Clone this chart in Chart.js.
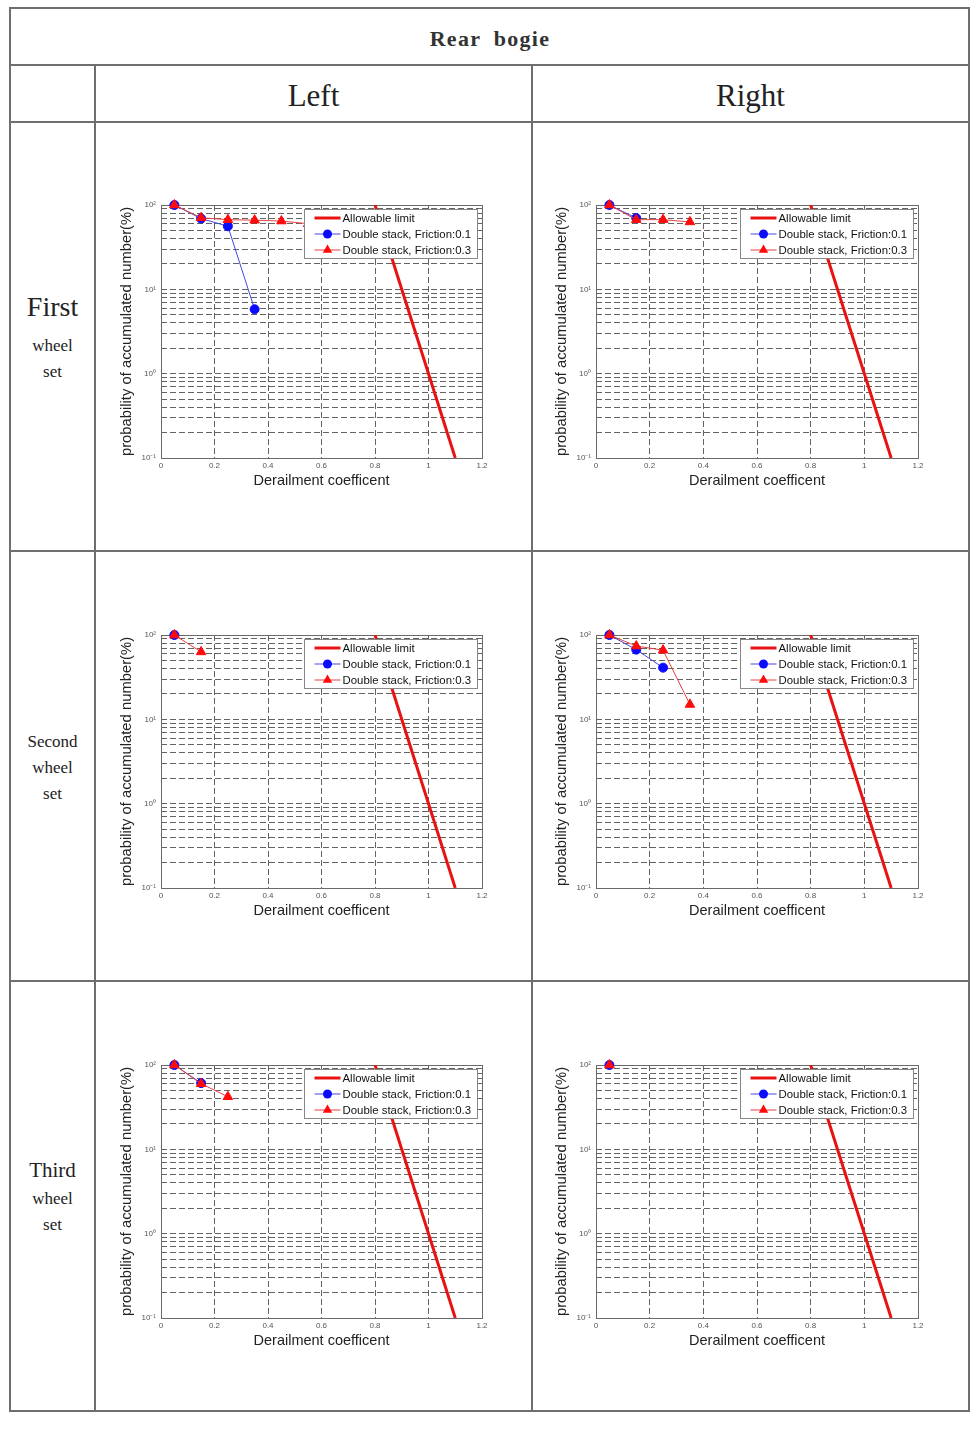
<!DOCTYPE html>
<html>
<head>
<meta charset="utf-8">
<title>Rear bogie - derailment coefficient</title>
<script src="https://cdn.jsdelivr.net/npm/chart.js@4.4.1/dist/chart.umd.min.js"></script>
<style>
  html, body { margin: 0; padding: 0; background: #fff; }
  #page { position: relative; width: 980px; height: 1429px; overflow: hidden; }
  .rule { position: absolute; background: #6e6e6e; }
  .txt { position: absolute; font-family: "Liberation Serif", "DejaVu Serif", serif; color: #222;
         text-align: center; white-space: nowrap; line-height: 1; }
  .plot { position: absolute; }
</style>
</head>
<body>
<div id="page">
  <!-- table rules -->
  <div class="rule" style="left:10px;top:7px;width:960px;height:2px"></div>
  <div class="rule" style="left:10px;top:64px;width:960px;height:2px"></div>
  <div class="rule" style="left:10px;top:121px;width:960px;height:2px"></div>
  <div class="rule" style="left:10px;top:550px;width:960px;height:2px"></div>
  <div class="rule" style="left:10px;top:980px;width:960px;height:2px"></div>
  <div class="rule" style="left:10px;top:1410px;width:960px;height:2px"></div>
  <div class="rule" style="left:9px;top:7px;width:2px;height:1405px"></div>
  <div class="rule" style="left:968px;top:7px;width:2px;height:1405px"></div>
  <div class="rule" style="left:94px;top:64px;width:2px;height:1348px"></div>
  <div class="rule" style="left:531px;top:64px;width:2px;height:1348px"></div>

  <!-- headers -->
  <div class="txt" style="left:10px;width:960px;top:28px;font-size:22px;font-weight:bold;letter-spacing:1.3px;word-spacing:6px;color:#333">Rear bogie</div>
  <div class="txt" style="left:95px;width:437px;top:80px;font-size:31px">Left</div>
  <div class="txt" style="left:532px;width:437px;top:80px;font-size:31px">Right</div>

  <div class="txt" style="left:10px;width:85px;top:293px;font-size:28px">First</div>
  <div class="txt" style="left:10px;width:85px;top:337px;font-size:17px">wheel</div>
  <div class="txt" style="left:10px;width:85px;top:363px;font-size:17px">set</div>

  <div class="txt" style="left:10px;width:85px;top:733px;font-size:17px">Second</div>
  <div class="txt" style="left:10px;width:85px;top:759px;font-size:17px">wheel</div>
  <div class="txt" style="left:10px;width:85px;top:785px;font-size:17px">set</div>

  <div class="txt" style="left:10px;width:85px;top:1160px;font-size:21px">Third</div>
  <div class="txt" style="left:10px;width:85px;top:1190px;font-size:17px">wheel</div>
  <div class="txt" style="left:10px;width:85px;top:1216px;font-size:17px">set</div>

  <!-- charts -->
  <canvas class="plot" id="c11" width="380" height="300" style="left:115px;top:195px"></canvas>
  <canvas class="plot" id="c12" width="380" height="300" style="left:550px;top:195px"></canvas>
  <canvas class="plot" id="c21" width="380" height="300" style="left:115px;top:625px"></canvas>
  <canvas class="plot" id="c22" width="380" height="300" style="left:550px;top:625px"></canvas>
  <canvas class="plot" id="c31" width="380" height="300" style="left:115px;top:1055px"></canvas>
  <canvas class="plot" id="c32" width="380" height="300" style="left:550px;top:1055px"></canvas>
</div>

<script>
// ---------- data ----------
const xCenters = [0.05, 0.15, 0.25, 0.35, 0.45, 0.55];

const limitX = [0.8, 1.1];
const limitY = [100, 0.1];

const xTicks = [0, 0.2, 0.4, 0.6, 0.8, 1, 1.2];
const xTickLabels = ['0', '0.2', '0.4', '0.6', '0.8', '1', '1.2'];

const yGrid = [0.1, 0.2, 0.3, 0.4, 0.5, 0.6, 0.7, 0.8, 0.9,
               1, 2, 3, 4, 5, 6, 7, 8, 9,
               10, 20, 30, 40, 50, 60, 70, 80, 90, 100];
const yTickLabels = { '0.1': '10\u207B\u00B9', '1': '10\u2070', '10': '10\u00B9', '100': '10\u00B2' };

const seriesLabels = ['Allowable limit', 'Double stack, Friction:0.1', 'Double stack, Friction:0.3'];

// y values (%) at xCenters
const firstLeftF01 = [100, 69, 56, 5.8];
const firstLeftF03 = [100, 70.5, 67, 66, 64.5, 60];
const firstRightF01 = [100, 70];
const firstRightF03 = [100, 67, 67, 63];
const secondLeftF01 = [100];
const secondLeftF03 = [100, 63];
const secondRightF01 = [100, 67, 41];
const secondRightF03 = [100, 74, 66, 15];
const thirdLeftF01 = [100, 61];
const thirdLeftF03 = [100, 60, 42];
const thirdRightF01 = [100];
const thirdRightF03 = [100];

const panels = [
    { id: 'c11', f01: firstLeftF01, f03: firstLeftF03, padRight: 13 },
    { id: 'c12', f01: firstRightF01, f03: firstRightF03, padRight: 12 },
    { id: 'c21', f01: secondLeftF01, f03: secondLeftF03, padRight: 13 },
    { id: 'c22', f01: secondRightF01, f03: secondRightF03, padRight: 12 },
    { id: 'c31', f01: thirdLeftF01, f03: thirdLeftF03, padRight: 13 },
    { id: 'c32', f01: thirdRightF01, f03: thirdRightF03, padRight: 12 }
];

// ---------- styles ----------
Chart.defaults.font.family = "'Liberation Sans', Arial, sans-serif";
const gridColor = 'rgba(60,60,60,0.8)';
const gridDash = [6, 3];
const tickFont = { size: 8 };
const tickColor = '#555';

// ---------- plugins ----------
// plot box around the chart area (MATLAB style)
const framePlugin = {
    id: 'frame',
    beforeDatasetsDraw(chart) {
        const { ctx, chartArea: a } = chart;
        ctx.save();
        ctx.strokeStyle = '#6a6a6a';
        ctx.lineWidth = 1;
        ctx.strokeRect(Math.round(a.left) + 0.5, Math.round(a.top) + 0.5,
                       Math.round(a.right - a.left), Math.round(a.bottom - a.top));
        ctx.restore();
    }
};

function drawMarker(ctx, style, x, y, r, color) {
    ctx.fillStyle = color;
    ctx.beginPath();
    if (style === 'circle') {
        ctx.arc(x, y, r, 0, Math.PI * 2);
    } else if (style === 'triangle') {
        let rad = 0;
        ctx.moveTo(x + Math.sin(rad) * r, y - Math.cos(rad) * r);
        rad += 2 * Math.PI / 3;
        ctx.lineTo(x + Math.sin(rad) * r, y - Math.cos(rad) * r);
        rad += 2 * Math.PI / 3;
        ctx.lineTo(x + Math.sin(rad) * r, y - Math.cos(rad) * r);
        ctx.closePath();
    }
    ctx.fill();
}

// boxed legend in the upper right of the plot
const boxLegend = {
    id: 'boxLegend',
    afterDatasetsDraw(chart) {
        const { ctx, chartArea: a } = chart;
        const w = 173, h = 49;
        const x0 = Math.round(a.right - 5 - w) + 0.5;
        const y0 = Math.round(a.top + 4) + 0.5;
        ctx.save();
        ctx.fillStyle = '#fff';
        ctx.fillRect(x0, y0, w, h);
        ctx.strokeStyle = '#888';
        ctx.lineWidth = 1;
        ctx.strokeRect(x0, y0, w, h);
        ctx.font = "11.4px 'Liberation Sans', Arial, sans-serif";
        ctx.textBaseline = 'middle';
        chart.data.datasets.forEach(function(ds, i) {
            const cy = y0 + 8.5 + i * 16;
            ctx.strokeStyle = ds.borderColor;
            ctx.lineWidth = ds.borderWidth;
            ctx.beginPath();
            ctx.moveTo(x0 + 10, cy);
            ctx.lineTo(x0 + 36, cy);
            ctx.stroke();
            if (ds.pointRadius > 0) {
                drawMarker(ctx, ds.pointStyle, x0 + 23, cy, ds.pointRadius, ds.pointBackgroundColor);
            }
            ctx.fillStyle = '#111';
            ctx.fillText(ds.label, x0 + 38, cy + 0.5);
        });
        ctx.restore();
    }
};

// ---------- charts ----------
function toPoints(values) {
    return values.map(function(v, i) { return { x: xCenters[i], y: v }; });
}

panels.forEach(function(p) {
    new Chart(document.getElementById(p.id), {
        type: 'line',
        data: {
            datasets: [{
                label: seriesLabels[0],
                data: limitX.map(function(x, i) { return { x: x, y: limitY[i] }; }),
                borderColor: '#e81212',
                borderWidth: 3,
                pointRadius: 0,
                order: 0
            }, {
                label: seriesLabels[1],
                data: toPoints(p.f01),
                borderColor: '#4646e6',
                borderWidth: 1,
                pointStyle: 'circle',
                pointRadius: 4.5,
                pointBackgroundColor: '#0a0aff',
                pointBorderColor: '#0a0aff',
                pointBorderWidth: 1,
                order: 2,
                clip: 8
            }, {
                label: seriesLabels[2],
                data: toPoints(p.f03),
                borderColor: '#e64040',
                borderWidth: 1,
                pointStyle: 'triangle',
                pointRadius: 5.5,
                pointBackgroundColor: '#ff0a0a',
                pointBorderColor: '#ff0a0a',
                pointBorderWidth: 1,
                order: 1,
                clip: 8
            }]
        },
        options: {
            responsive: false,
            animation: false,
            layout: { padding: { left: 0, top: 10, right: p.padRight, bottom: 0 } },
            plugins: { legend: { display: false }, tooltip: { enabled: false } },
            scales: {
                x: {
                    type: 'linear',
                    min: 0,
                    max: 1.2,
                    afterBuildTicks: function(s) { s.ticks = xTicks.map(function(v) { return { value: v }; }); },
                    afterFit: function(s) { s.height = 37; },
                    ticks: {
                        autoSkip: false,
                        maxRotation: 0,
                        padding: 3,
                        font: tickFont,
                        color: tickColor,
                        callback: function(v, i) { return xTickLabels[i]; }
                    },
                    grid: { color: gridColor, lineWidth: 1, drawTicks: false },
                    border: { display: false, dash: gridDash },
                    title: {
                        display: true,
                        text: 'Derailment coefficent',
                        color: '#222',
                        font: { size: 14.5 },
                        padding: { top: 0, bottom: 5 }
                    }
                },
                y: {
                    type: 'logarithmic',
                    min: 0.1,
                    max: 100,
                    afterBuildTicks: function(s) { s.ticks = yGrid.map(function(v) { return { value: v }; }); },
                    afterFit: function(s) { s.width = 46; },
                    ticks: {
                        autoSkip: false,
                        padding: 5,
                        font: tickFont,
                        color: tickColor,
                        callback: function(v) { return yTickLabels[String(v)] || ''; }
                    },
                    grid: { color: gridColor, lineWidth: 1, drawTicks: false },
                    border: { display: false, dash: gridDash },
                    title: {
                        display: true,
                        text: 'probability of accumulated number(%)',
                        color: '#222',
                        font: { size: 14.8 },
                        padding: { top: 3, bottom: 0 }
                    }
                }
            }
        },
        plugins: [framePlugin, boxLegend]
    });
});
</script>
</body>
</html>
